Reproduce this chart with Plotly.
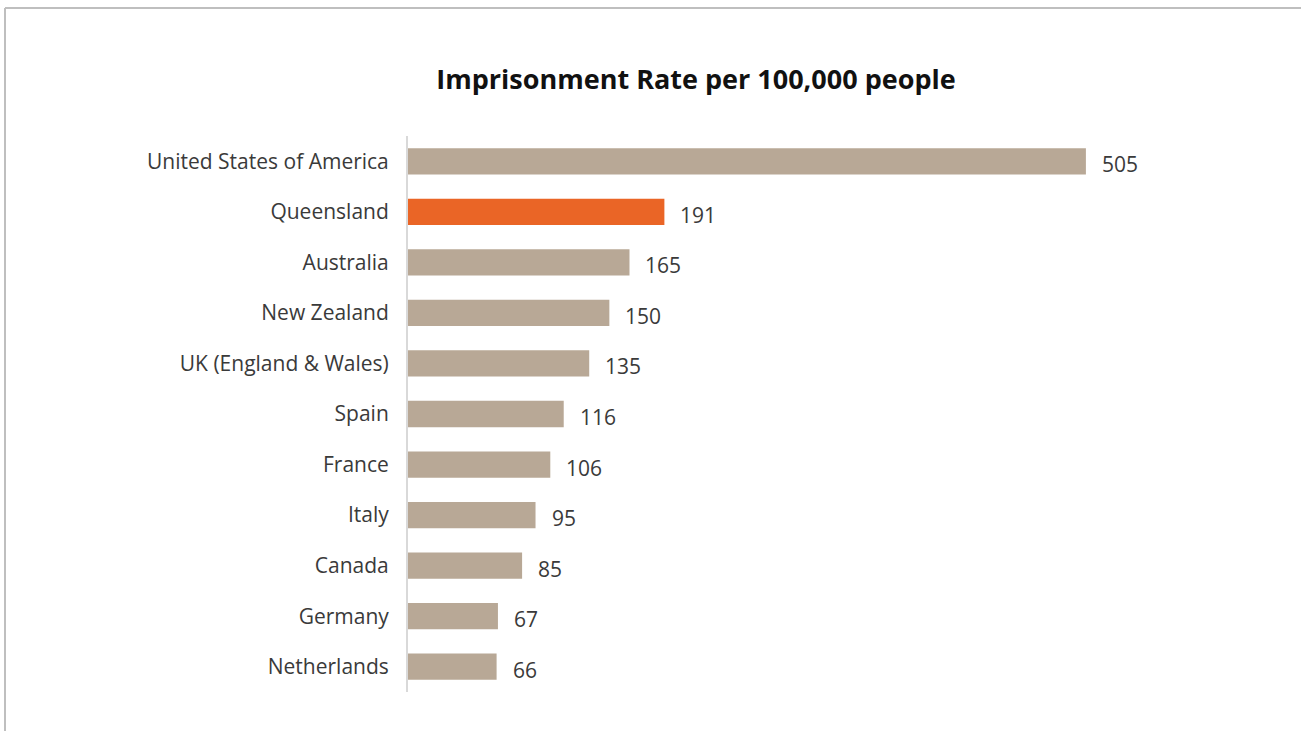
import plotly.graph_objects as go

# Imprisonment rate per 100,000 people, highest first
countries = [
    "United States of America", "Queensland", "Australia", "New Zealand",
    "UK (England & Wales)", "Spain", "France", "Italy", "Canada",
    "Germany", "Netherlands",
]
rates = [505, 191, 165, 150, 135, 116, 106, 95, 85, 67, 66]
highlight = "Queensland"

TAN = "#B8A896"
ORANGE = "#EA6526"
TEXT = "#3A3A3A"
FONT = "Open Sans"

W, H = 1301, 731
L, R, T, B = 408, 101, 136, 39

colors = [ORANGE if c == highlight else TAN for c in countries]

fig = go.Figure(
    go.Bar(
        x=rates,
        y=countries,
        orientation="h",
        marker=dict(color=colors, line=dict(width=0)),
        width=0.52,
        hoverinfo="x+y",
    )
)

# value labels just beyond each bar end
for c, v in zip(countries, rates):
    fig.add_annotation(
        x=v, y=c, text=str(v), showarrow=False,
        xanchor="left", yanchor="middle", xshift=14, yshift=-3,
        font=dict(family=FONT, size=21, color=TEXT),
    )

# light frame along the top and left edges of the page
pw, ph = W - L - R, H - T - B
def px(x):
    return (x - L) / pw
def py(y):
    return (H - B - y) / ph
frame = dict(type="line", xref="paper", yref="paper",
             line=dict(color="#BFBFBF", width=2), layer="below")
fig.add_shape(**frame, x0=px(5), y0=py(8), x1=px(W + 5), y1=py(8))
fig.add_shape(**frame, x0=px(5), y0=py(8), x1=px(5), y1=py(H + 5))

fig.update_layout(
    width=W, height=H,
    margin=dict(l=L, r=R, t=T, b=B, pad=0),
    paper_bgcolor="white", plot_bgcolor="white",
    showlegend=False,
    title=dict(
        text="<b>Imprisonment Rate per 100,000 people</b>",
        x=(696) / W, xanchor="center", y=1 - 80 / H, yanchor="middle",
        font=dict(family=FONT, size=27, color="#111111"),
    ),
    xaxis=dict(range=[0, 590], visible=False, fixedrange=True),
    yaxis=dict(
        autorange=False, range=[len(countries) - 0.5, -0.5],
        categoryorder="array", categoryarray=countries,
        showgrid=False, zeroline=False,
        showline=True, linecolor="#D9D9D9", linewidth=2,
        ticks="", ticklabelstandoff=13,
        tickfont=dict(family=FONT, size=21, color=TEXT),
    ),
    font=dict(family=FONT),
)

fig.write_html("out.html")
